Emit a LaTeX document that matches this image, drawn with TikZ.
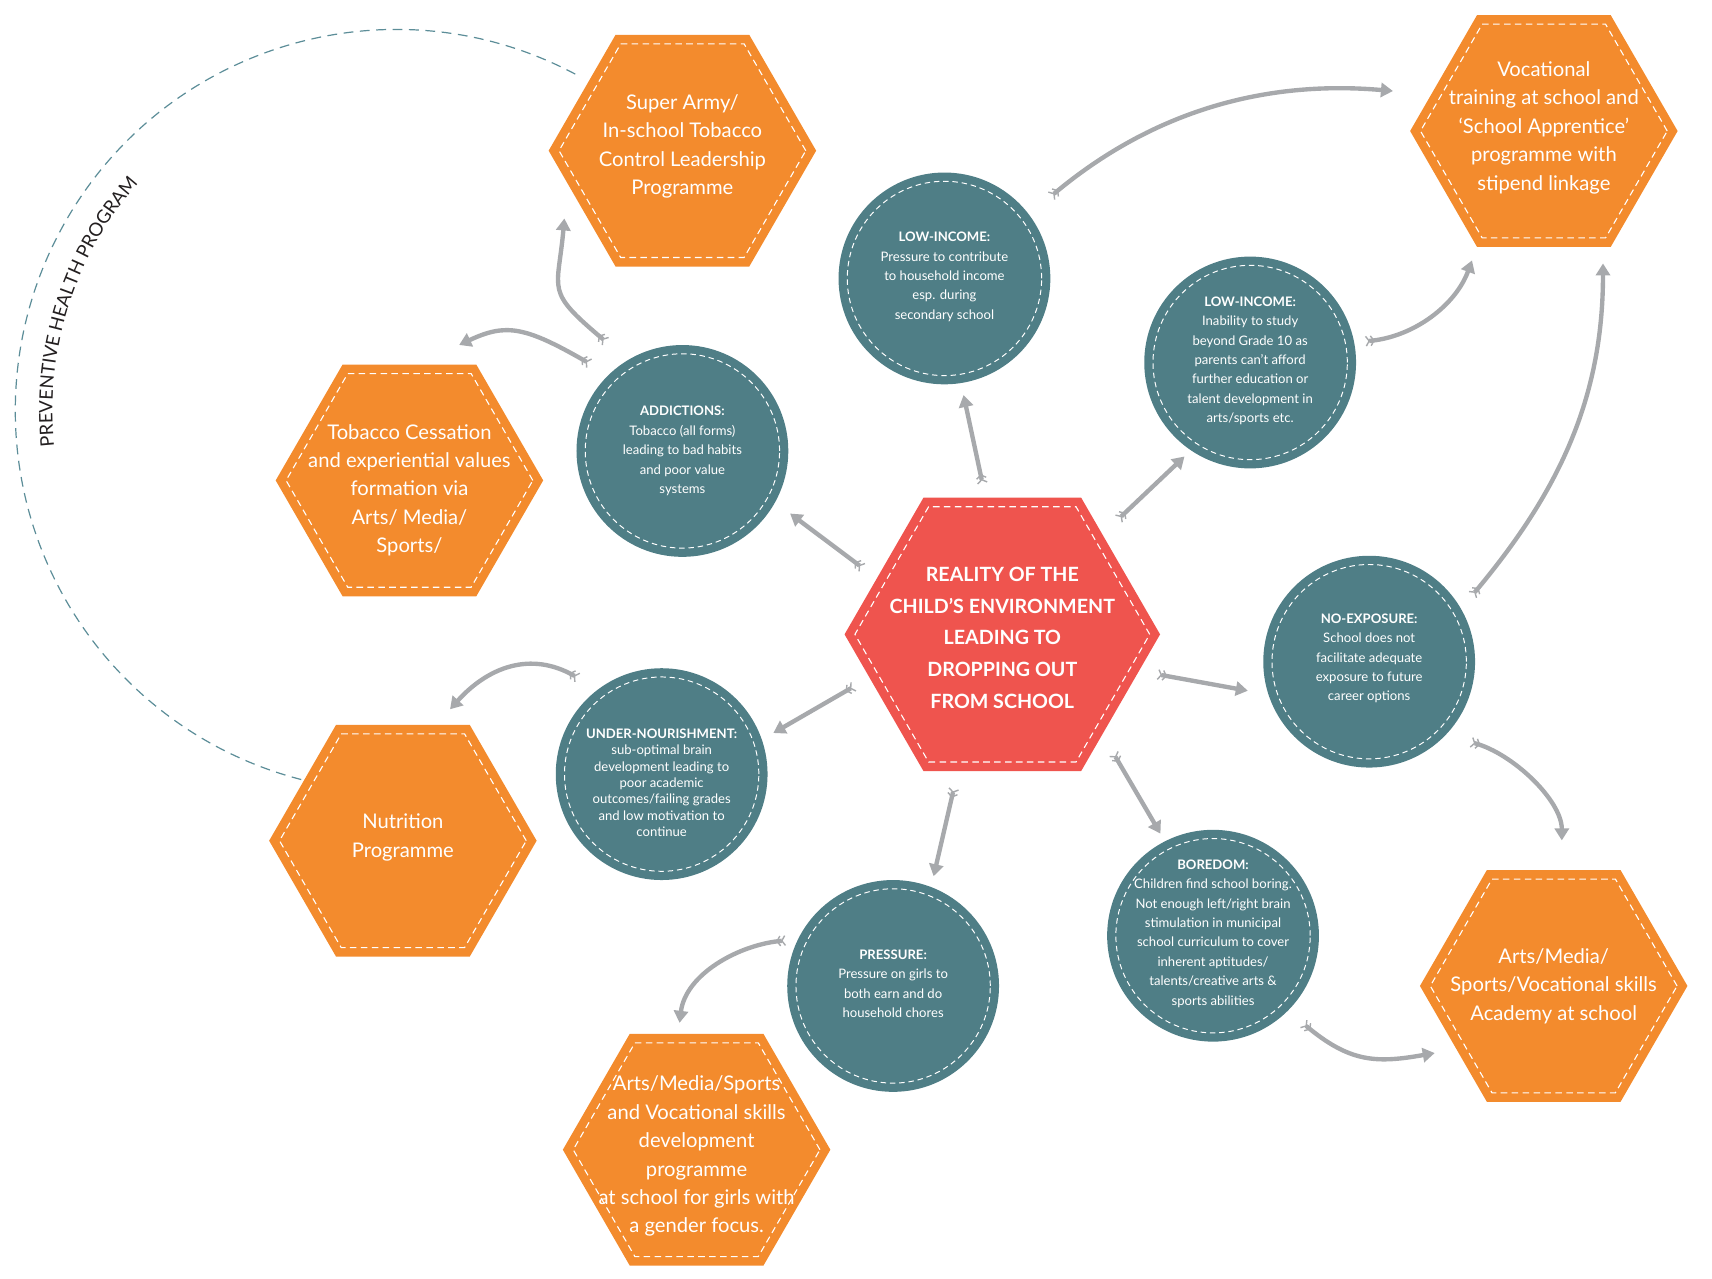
\documentclass[tikz,border=0pt]{standalone}
\usepackage{fontspec}
\setmainfont{Lato}
\usetikzlibrary{calc}
\usetikzlibrary{shapes.geometric}
\usetikzlibrary{arrows.meta}
\usetikzlibrary{decorations.text}
\definecolor{progorange}{HTML}{F38B2D}
\definecolor{causeteal}{HTML}{4F7E86}
\definecolor{realityred}{HTML}{EF544E}
\definecolor{flowgray}{HTML}{A7A9AC}
\definecolor{arcteal}{HTML}{5C8D98}
\definecolor{arcink}{HTML}{231F20}
\newcommand{\hexfont}{\fontsize{18.5}{26}\selectfont}
\newcommand{\causefont}{\fontsize{12}{17.8}\selectfont}
\newcommand{\realityfont}{\bfseries\fontsize{18}{29}\selectfont}
\newcommand{\arcfont}{\fontsize{17}{19}\selectfont}
\tikzset{
	% Two shapes: orange hexagons for programmes, teal circles for causes
	prog hex/.style={regular polygon,regular polygon sides=6,minimum size=245pt,inner sep=0pt,fill=progorange,
		path picture={\draw[white,line width=1pt,dash pattern=on 6pt off 4pt,shift={(path picture bounding box.center)}]
			(0:113pt)--(60:113pt)--(120:113pt)--(180:113pt)--(240:113pt)--(300:113pt)--cycle;}},
	reality hex/.style={regular polygon,regular polygon sides=6,minimum size=289pt,inner sep=0pt,fill=realityred,
		path picture={\draw[white,line width=1pt,dash pattern=on 6pt off 4pt,shift={(path picture bounding box.center)}]
			(0:135pt)--(60:135pt)--(120:135pt)--(180:135pt)--(240:135pt)--(300:135pt)--cycle;}},
	cause node/.style={circle,minimum size=194pt,inner sep=0pt,fill=causeteal,
		path picture={\draw[white,line width=0.9pt,dash pattern=on 5pt off 3.5pt]
			(path picture bounding box.center) circle (89pt);}},
	hex text/.style={text=white,align=center,font=\hexfont},
	cause text/.style={text=white,align=center,font=\causefont},
	% grey arrows with a feathered tail
	flow arrow/.style={draw=flowgray,line width=4pt,
		{Straight Barb[reversed,length=3pt,width=9pt,line width=1.3pt]Straight Barb[reversed,length=3pt,width=9pt,line width=1.3pt]}-{Triangle[length=11pt,width=13pt]}}
}
\begin{document}
\begin{tikzpicture}[x=1pt,y=1pt]
	% macros for the texts inside the shapes
	\newcommand{\hextext}[3][]{\node(#2-text)[hex text,#1]at(#2){#3};}
	\newcommand{\causetext}[3][]{\node(#2-text)[cause text,#1]at(#2){#3};}
	% macro for the straight arrows leaving the centre
	\newcommand{\spoke}[4][]{\draw[flow arrow,#1](reality.#2)--(#3.#4);}
	\useasboundingbox (0,0) rectangle (1568,-1171);
	
	% dashed arc round the health programmes
	\coordinate(prevc)at(363,-376);
	\draw[arcteal,line width=1.1pt,dash pattern=on 9pt off 6pt]($(prevc)+(62:349pt)$) arc[start angle=62,end angle=258,radius=349pt];
	\path[decorate,decoration={text along path,text={|\arcfont|PREVENTIVE HEALTH PROGRAM},text color=arcink}]
		($(prevc)+(186:315pt)$) arc[start angle=186,end angle=130,radius=315pt];
	
	% centre and programmes
	\node(reality)[reality hex]at(918,-581){};
	\node(army)[prog hex]at(625,-138){};
	\node(voc)[prog hex]at(1414,-120){};
	\node(cessation)[prog hex]at(375,-440){};
	\node(nutrition)[prog hex]at(369,-770){};
	\node(girlskill)[prog hex]at(638,-1053){};
	\node(academy)[prog hex]at(1423,-903){};
	
	% causes
	\node(earn)[cause node]at(865,-255){};
	\node(fees)[cause node]at(1145,-332){};
	\node(addiction)[cause node]at(625,-413){};
	\node(exposure)[cause node]at(1254,-606){};
	\node(nourish)[cause node]at(606,-709){};
	\node(pressure)[cause node]at(818,-903){};
	\node(boredom)[cause node]at(1111,-857){};
	
	% arrows from the centre
	\spoke[shorten <=13pt,shorten >=11pt]{97}{earn}{279}
	\spoke[shorten <=20pt,shorten >=8pt]{45}{fees}{236}
	\spoke[shorten <=16pt,shorten >=17pt]{156}{addiction}{331}
	\spoke[shorten <=16pt,shorten >=12pt]{198}{nourish}{19}
	\spoke[shorten <=17pt,shorten >=19pt]{345}{exposure}{198}
	\spoke[shorten <=20pt,shorten >=8pt]{315}{boredom}{117}
	\spoke[shorten <=16pt,shorten >=10pt]{252}{pressure}{69}
	
	% arrows from causes to programmes
	\draw[flow arrow,shorten <=26pt,shorten >=35pt](earn.37) to[out=40,in=175] (voc.162);
	\draw[flow arrow,shorten <=10pt,shorten >=13pt](fees.11) to[out=5,in=250] (voc.240);
	\draw[flow arrow,shorten <=16pt,shorten >=15pt](exposure.30) to[out=50,in=270] (voc.297);
	\draw[flow arrow,shorten <=24pt,shorten >=27pt](exposure.316) to[out=-15,in=90] (academy.86);
	\draw[flow arrow,shorten <=18pt,shorten >=20pt](boredom.315) to[out=-40,in=190,looseness=1.2] (academy.213);
	\draw[flow arrow,shorten <=11pt,shorten >=10pt](pressure.154) to[out=185,in=83] (girlskill.99);
	\draw[flow arrow,shorten <=21pt,shorten >=19pt](nourish.127) to[out=150,in=48,looseness=1.2] (nutrition.74);
	\draw[flow arrow,shorten <=20pt,shorten >=42pt](addiction.134) to[out=150,in=25,looseness=1.3] (cessation.86);
	\draw[flow arrow,shorten <=26pt,shorten >=32pt](addiction.121) to[out=140,in=265,looseness=1.5] (army.196);
	
	% texts
	\node(reality-text)[text=white,align=center,font=\realityfont,yshift=-3pt]at(reality){REALITY OF THE\\CHILD’S ENVIRONMENT\\LEADING TO\\DROPPING OUT\\FROM SCHOOL};
	\hextext[yshift=4pt]{army}{Super Army/\\In-school Tobacco\\Control Leadership\\Programme}
	\hextext[yshift=3pt]{voc}{Vocational\\training at school and\\‘School Apprentice’\\programme with\\stipend linkage}
	\hextext[yshift=-9pt]{cessation}{Tobacco Cessation\\and experiential values\\formation via\\Arts/ Media/\\Sports/}
	\hextext[yshift=3pt]{nutrition}{Nutrition\\Programme}
	\hextext[yshift=-6pt]{girlskill}{Arts/Media/Sports\\and Vocational skills\\development\\programme\\at school for girls with\\a gender focus.}
	\hextext{academy}{Arts/Media/\\Sports/Vocational skills\\Academy at school}
	\causetext[yshift=1.5pt]{earn}{\textbf{LOW-INCOME:}\\Pressure to contribute\\to household income\\esp. during\\secondary school}
	\causetext[yshift=1.5pt]{fees}{\textbf{LOW-INCOME:}\\Inability to study\\beyond Grade 10 as\\parents can’t afford\\further education or\\talent development in\\arts/sports etc.}
	\causetext{addiction}{\textbf{ADDICTIONS:}\\Tobacco (all forms)\\leading to bad habits\\and poor value\\systems}
	\causetext[yshift=3pt]{exposure}{\textbf{NO-EXPOSURE:}\\School does not\\facilitate adequate\\exposure to future\\career options}
	\causetext[font=\fontsize{12}{15}\selectfont,yshift=-8pt]{nourish}{\textbf{UNDER-NOURISHMENT:}\\sub-optimal brain\\development leading to\\poor academic\\outcomes/failing grades\\and low motivation to\\continue}
	\causetext[yshift=2pt]{pressure}{\textbf{PRESSURE:}\\Pressure on girls to\\both earn and do\\household chores}
	\causetext[yshift=2pt]{boredom}{\textbf{BOREDOM:}\\Children find school boring.\\Not enough left/right brain\\stimulation in municipal\\school curriculum to cover\\inherent aptitudes/\\talents/creative arts \&\\sports abilities}
\end{tikzpicture}
\end{document}
